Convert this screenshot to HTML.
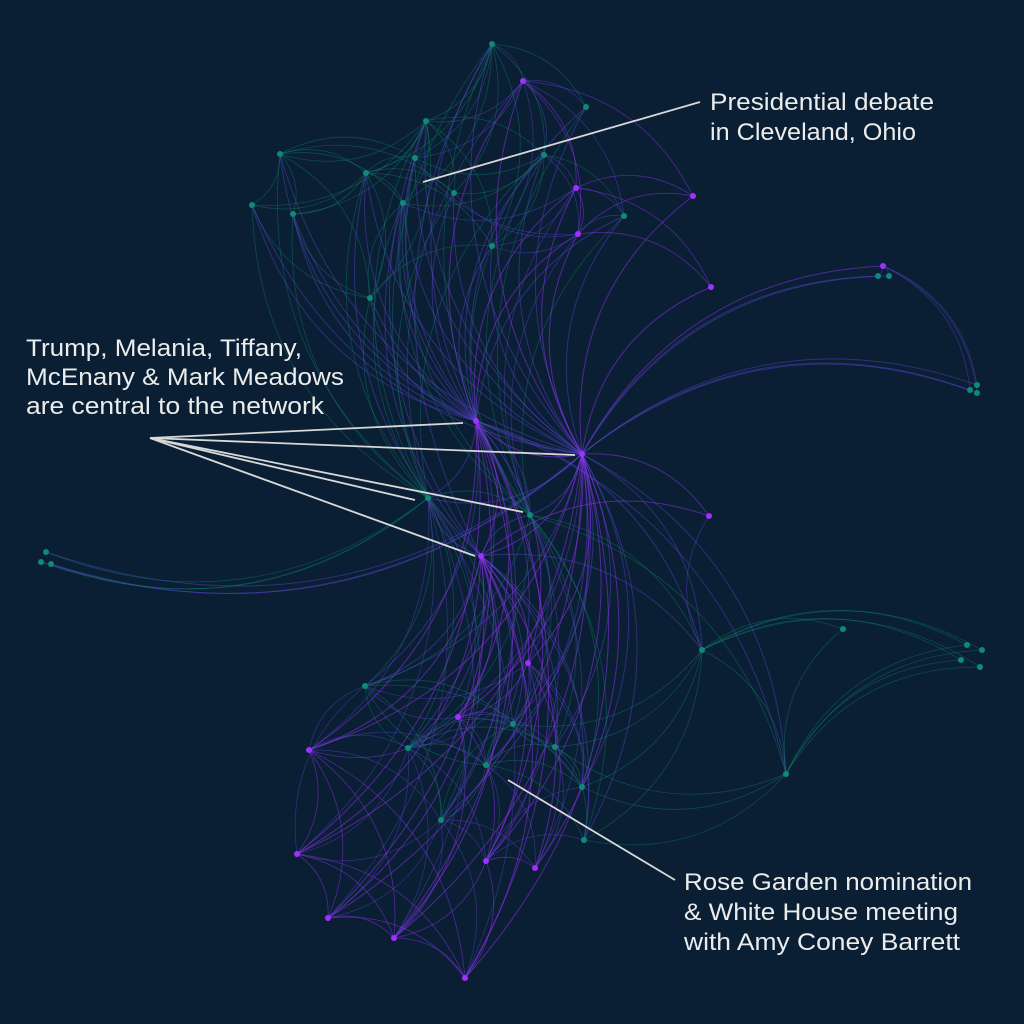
<!DOCTYPE html>
<html><head><meta charset="utf-8"><style>
html,body{margin:0;padding:0;background:#0a1f33;}
svg{display:block;}
text{font-family:"Liberation Sans",sans-serif;font-size:24px;fill:#ececec;}
</style></head><body>
<svg id="net" width="1024" height="1024" viewBox="0 0 1024 1024">
<rect width="1024" height="1024" fill="#0a1f33"/>
<g id="edges"></g>
<g id="nodes"></g>
<g id="ann">
<g fill="none" stroke="#d8d8d8" stroke-width="1.8">
<line x1="423" y1="182" x2="700" y2="102"/>
<line x1="150" y1="438" x2="463" y2="423"/>
<line x1="150" y1="438" x2="575" y2="455"/>
<line x1="150" y1="438" x2="415" y2="500"/>
<line x1="150" y1="438" x2="523" y2="512"/>
<line x1="150" y1="438" x2="475" y2="556"/>
<line x1="508" y1="780" x2="675" y2="880"/>
</g>
<text x="710" y="110" textLength="224" lengthAdjust="spacingAndGlyphs">Presidential debate</text>
<text x="710" y="140" textLength="206" lengthAdjust="spacingAndGlyphs">in Cleveland, Ohio</text>
<text x="26" y="356" textLength="276" lengthAdjust="spacingAndGlyphs">Trump, Melania, Tiffany,</text>
<text x="26" y="385" textLength="318" lengthAdjust="spacingAndGlyphs">McEnany &amp; Mark Meadows</text>
<text x="26" y="414" textLength="298" lengthAdjust="spacingAndGlyphs">are central to the network</text>
<text x="684" y="890" textLength="288" lengthAdjust="spacingAndGlyphs">Rose Garden nomination</text>
<text x="684" y="920" textLength="274" lengthAdjust="spacingAndGlyphs">&amp; White House meeting</text>
<text x="684" y="950" textLength="276" lengthAdjust="spacingAndGlyphs">with Amy Coney Barrett</text>
</g>
</svg>
<script>
const nodeX=[492,523,586,426,280,366,415,544,576,693,624,252,293,403,454,578,492,711,370,883,878,889,977,970,977,476,582,428,530,481,709,46,41,51,843,702,967,982,961,980,528,365,458,513,309,408,555,486,582,786,441,584,297,486,535,328,394,465];
const nodeY=[44,81,107,121,154,173,158,155,188,196,216,205,214,203,193,234,246,287,298,266,276,276,385,390,393,421,454,498,515,556,516,552,562,564,629,650,645,650,660,667,663,686,717,724,750,748,747,765,787,774,820,840,854,861,868,918,938,978];
const nodeType=["t","p","t","t","t","t","t","t","p","p","t","t","t","t","t","p","t","p","t","p","t","t","t","t","t","p","p","t","t","p","p","t","t","t","t","t","t","t","t","t","p","t","p","t","p","t","t","t","t","t","t","t","p","p","p","p","p","p"];
const adjacency=[
"26:0,1,2,3,4,5,6,7,8,9,10,11,12,13,14,15,16,17,18,19,20,21,22,23,24,25,27,28,29,30,31,32,33,35,40,41,42,43,44,45,46,47,48,49,50,51,52,53,54,55,56,57",
"25:0,1,2,3,4,5,6,7,8,10,11,12,13,14,15,16,18,27,28,29,40,41,42,44,45,47,50,52,53,55,56,57,35,49",
"29:27,28,40,41,42,43,44,45,46,47,48,50,51,52,53,54,55,56,57,35,30,0,3,5,13",
"27:0,3,4,5,11,12,13,14,18,28,31,32,33,41,42,44,45,47,50,52,55,56,57,1,7",
"28:2,7,8,10,15,16,35,40,43,46,48,51,53,54,49,0,6,13,41,45",
"0:1,2,3,6,7,14,5,13,16",
"1:2,3,7,8,9,15,6,10,16",
"3:4,5,6,13,14,11,12,7,18,16",
"4:5,11,12,13,6,18,14",
"5:6,11,12,13,14,18,16",
"7:8,10,15,16,14,13,6",
"8:9,10,15,16,17,13",
"15:9,10,16,17,14,6",
"18:11,12,13,16",
"35:34,36,37,38,39,49,48,46,30,51,43",
"49:36,37,38,39,48,51,46,34",
"19:20,21,22,23,24",
"40:42,43,46,47,48,53,54,51,41,45",
"42:41,43,44,45,47,50,53,56,48,46",
"44:45,52,55,56,41,50,57,47",
"45:47,50,52,53,55,56,43,46,41",
"47:43,46,48,50,53,54,51,41",
"50:52,53,55,56,57,54,43",
"53:54,56,57,51,48",
"52:55,56,57,41",
"55:56,57",
"56:57",
"46:48,51,54,43",
"41:43,48,50"
];
const NS="http://www.w3.org/2000/svg";
const eg=document.getElementById('edges');
function color(a,b){
  const pa=nodeType[a]==='p',pb=nodeType[b]==='p';
  if(pa&&pb) return ['#9b30ff',0.5];
  if(pa||pb) return ['#5b45d0',0.45];
  return ['#0f8070',0.45];
}
adjacency.forEach(s=>{
  const [src,list]=s.split(':');const a=+src;
  list.split(',').forEach(t=>{
    const b=+t;
    const x1=nodeX[a],y1=nodeY[a],x2=nodeX[b],y2=nodeY[b];
    const dx=x2-x1,dy=y2-y1;
    const mx=(x1+x2)/2,my=(y1+y2)/2;
    const k=0.28;
    const cx=mx+dy*k,cy=my-dx*k;
    const p=document.createElementNS(NS,'path');
    p.setAttribute('d',`M${x1},${y1} Q${cx},${cy} ${x2},${y2}`);
    const [c,o]=color(a,b);
    p.setAttribute('fill','none');
    p.setAttribute('stroke',c);
    p.setAttribute('stroke-opacity',o);
    p.setAttribute('stroke-width',(a===26||a===25||a===29)?1:0.8);
    
    
    eg.appendChild(p);
  });
});
const ng=document.getElementById('nodes');
for(let i=0;i<nodeX.length;i++){
  const c=document.createElementNS(NS,'circle');
  c.setAttribute('cx',nodeX[i]);c.setAttribute('cy',nodeY[i]);
  c.setAttribute('r',3);
  c.setAttribute('fill',nodeType[i]==='p'?'#a030ff':'#0f8a78');
  
  
  ng.appendChild(c);
}
</script>
</body></html>
